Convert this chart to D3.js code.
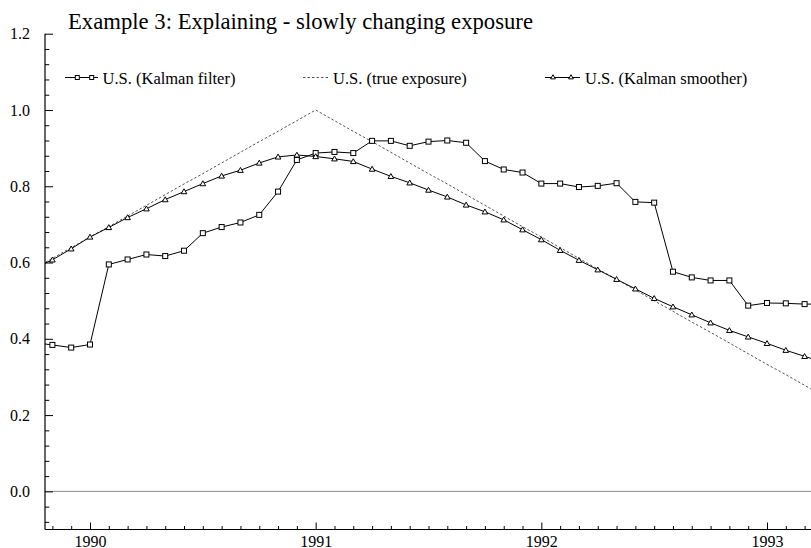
<!DOCTYPE html>
<html>
<head>
<meta charset="utf-8">
<script src="https://cdn.jsdelivr.net/npm/d3@7"></script>
<style>
  html, body { margin: 0; padding: 0; background: #fff; }
  svg { display: block; }
  text { font-family: "Liberation Serif", "Times New Roman", serif; fill: #000; }
</style>
</head>
<body>
<svg id="chart" width="811" height="548"></svg>
<script>
// ---- data (monthly, Oct 1989 .. Apr 1993) ----
const startYear = 1989, startMonth = 10, nMonths = 43;
const kalmanFilter = [
  0.390, 0.384, 0.377, 0.385, 0.595, 0.608, 0.621, 0.617, 0.631, 0.677, 0.693, 0.705,
  0.725, 0.786, 0.869, 0.887, 0.890, 0.887, 0.919, 0.919, 0.906, 0.917, 0.920, 0.914,
  0.866, 0.844, 0.836, 0.807, 0.807, 0.798, 0.801, 0.808, 0.759, 0.757, 0.576, 0.561,
  0.553, 0.553, 0.487, 0.494, 0.493, 0.491, 0.491
];
const trueExposure = [
  0.583, 0.611, 0.639, 0.667, 0.694, 0.722, 0.750, 0.778, 0.806, 0.833, 0.861, 0.889,
  0.917, 0.944, 0.972, 1.000, 0.972, 0.944, 0.917, 0.889, 0.861, 0.833, 0.806, 0.778,
  0.750, 0.722, 0.694, 0.667, 0.639, 0.611, 0.583, 0.556, 0.528, 0.500, 0.472, 0.444,
  0.417, 0.389, 0.361, 0.333, 0.306, 0.278, 0.250
];
const kalmanSmoother = [
  0.585, 0.607, 0.636, 0.667, 0.692, 0.718, 0.741, 0.765, 0.786, 0.807, 0.827, 0.842,
  0.861, 0.877, 0.882, 0.878, 0.872, 0.865, 0.845, 0.826, 0.809, 0.790, 0.772, 0.751,
  0.733, 0.712, 0.686, 0.660, 0.632, 0.606, 0.581, 0.556, 0.531, 0.506, 0.484, 0.463,
  0.442, 0.422, 0.405, 0.388, 0.370, 0.354, 0.338
];
const yearTicks = [1990, 1991, 1992, 1993];
const yMajorTicks = [0.0, 0.2, 0.4, 0.6, 0.8, 1.0, 1.2];
const seriesNames = ["U.S. (Kalman filter)", "U.S. (true exposure)", "U.S. (Kalman smoother)"];
const titleText = "Example 3: Explaining - slowly changing exposure";

(function () {
// time index: year + (month-1)/12
const times = d3.range(nMonths).map(i => startYear + (startMonth - 1 + i) / 12);

const svg = d3.select("#chart");
const pL = 45, pR = 811, pT = 33.7, pB = 529.5;

const x = d3.scaleLinear().domain([1989.8, 1993.2]).range([90 - 0.2 * 225.667, 90 + 3.2 * 225.667]);
const y = d3.scaleLinear().domain([-0.1, 1.2]).range([pB, pT]);

// clip for plot area
svg.append("defs").append("clipPath").attr("id", "plotclip")
  .append("rect").attr("x", pL).attr("y", 0).attr("width", pR - pL).attr("height", pB);

// title
svg.append("text").attr("x", 68).attr("y", 29)
  .style("font-size", "22.7px").text(titleText);

// zero line
svg.append("line")
  .attr("x1", pL).attr("x2", pR).attr("y1", y(0)).attr("y2", y(0))
  .attr("stroke", "#8c8c8c").attr("stroke-width", 1);

// axes
const xMinor = times.filter(t => t > 1989.8 && t < 1993.2 && Math.abs(t - Math.round(t)) > 1e-6);
const xAxisG = svg.append("g").attr("transform", `translate(0,${pB})`);
xAxisG.call(d3.axisBottom(x).tickValues(xMinor).tickSize(-3.5).tickFormat(""))
  .call(g => g.select(".domain").remove());
xAxisG.append("g").call(d3.axisBottom(x).tickValues(yearTicks).tickSize(-7).tickPadding(6).tickFormat(d3.format("d")))
  .call(g => g.select(".domain").remove())
  .call(g => g.selectAll("text").style("font-size", "16px").attr("fill", "#000")
      .style("font-family", '"Liberation Serif", "Times New Roman", serif'));
xAxisG.selectAll("line").attr("stroke", "#000");
svg.append("line").attr("x1", pL).attr("x2", pR).attr("y1", pB).attr("y2", pB)
  .attr("stroke", "#000").attr("stroke-width", 1.2);

const yMinor = d3.range(-0.08, 1.2, 0.04).filter(v => Math.abs(v * 5 - Math.round(v * 5)) > 1e-6);
const yAxisG = svg.append("g").attr("transform", `translate(${pL},0)`);
yAxisG.call(d3.axisLeft(y).tickValues(yMinor).tickSize(-4.3).tickFormat(""))
  .call(g => g.select(".domain").remove());
yAxisG.append("g").call(d3.axisLeft(y).tickValues(yMajorTicks).tickSize(-8).tickPadding(15).tickFormat(d3.format(".1f")))
  .call(g => g.select(".domain").remove())
  .call(g => g.selectAll("text").style("font-size", "16px").attr("fill", "#000")
      .style("font-family", '"Liberation Serif", "Times New Roman", serif'));
yAxisG.selectAll("line").attr("stroke", "#000");
svg.append("line").attr("x1", pL).attr("x2", pL).attr("y1", pT).attr("y2", pB)
  .attr("stroke", "#000").attr("stroke-width", 1.2);

// series
const plot = svg.append("g").attr("clip-path", "url(#plotclip)");
const line = d3.line().x((d, i) => x(times[i])).y(d => y(d));

plot.append("path").datum(trueExposure).attr("d", line)
  .attr("fill", "none").attr("stroke", "#555").attr("stroke-width", 1).attr("stroke-dasharray", "2.5,2");

plot.append("path").datum(kalmanFilter).attr("d", line)
  .attr("fill", "none").attr("stroke", "#000").attr("stroke-width", 1);
plot.append("path").datum(kalmanSmoother).attr("d", line)
  .attr("fill", "none").attr("stroke", "#000").attr("stroke-width", 1);

const sq = 5;
plot.selectAll("rect.kf").data(kalmanFilter).enter().append("rect").attr("class", "kf")
  .attr("x", (d, i) => x(times[i]) - sq / 2).attr("y", d => y(d) - sq / 2)
  .attr("width", sq).attr("height", sq)
  .attr("fill", "#fff").attr("stroke", "#000").attr("stroke-width", 1);

const tri = d3.symbol().type(d3.symbolTriangle).size(14);
plot.selectAll("path.ks").data(kalmanSmoother).enter().append("path").attr("class", "ks")
  .attr("d", tri)
  .attr("transform", (d, i) => `translate(${x(times[i])},${y(d) + 0.5})`)
  .attr("fill", "#fff").attr("stroke", "#000").attr("stroke-width", 1);

// legend
const ly = 77.5, lty = 83.5;
const lg = svg.append("g");
lg.append("line").attr("x1", 65).attr("x2", 98).attr("y1", ly).attr("y2", ly).attr("stroke", "#000");
[77.3, 91.7].forEach(cx => lg.append("rect").attr("x", cx - 2).attr("y", ly - 2).attr("width", 4).attr("height", 4)
  .attr("fill", "#fff").attr("stroke", "#000"));
lg.append("text").attr("x", 102.5).attr("y", lty).style("font-size", "16.5px").text(seriesNames[0]);

lg.append("line").attr("x1", 303).attr("x2", 328).attr("y1", ly).attr("y2", ly)
  .attr("stroke", "#555").attr("stroke-dasharray", "2.5,2");
lg.append("text").attr("x", 333).attr("y", lty).style("font-size", "16.5px").text(seriesNames[1]);

lg.append("line").attr("x1", 545).attr("x2", 580).attr("y1", ly).attr("y2", ly).attr("stroke", "#000");
const triL = d3.symbol().type(d3.symbolTriangle).size(10);
[553, 571].forEach(cx => lg.append("path").attr("d", triL).attr("transform", `translate(${cx},${ly})`)
  .attr("fill", "#fff").attr("stroke", "#000"));
lg.append("text").attr("x", 585).attr("y", lty).style("font-size", "16.5px").text(seriesNames[2]);
})();
</script>
</body>
</html>
